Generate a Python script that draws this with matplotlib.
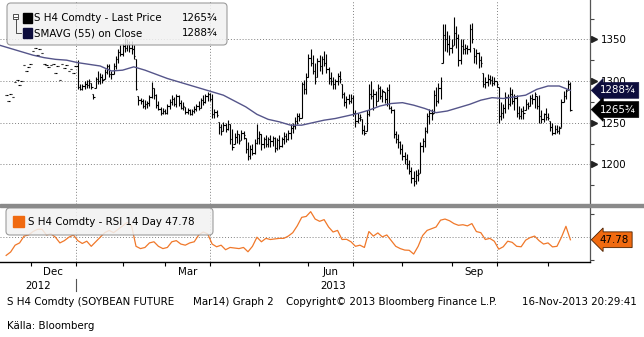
import numpy as np
import pandas as pd
import matplotlib
matplotlib.use("Agg")
import matplotlib.pyplot as plt
import matplotlib.transforms as mtransforms
from matplotlib.patches import Rectangle, FancyBboxPatch
from matplotlib.lines import Line2D

plt.rcParams['font.family'] = ['DejaVu Sans']

# CBOT trading calendar (weekdays without exchange holidays)
holidays = ["2012-11-22", "2012-12-25", "2013-01-01", "2013-01-21", "2013-02-18",
            "2013-03-29", "2013-05-27", "2013-07-04", "2013-09-02", "2013-11-28"]
first_bar = "2012-11-15"
sma_start = "2012-11-12"
rsi_start = "2012-11-15"

# early days: only a settlement dash (high = low = close)
early = [1283, 1276, 1285, 1281, 1299, 1301, 1295, 1300, 1319, 1312, 1317, 1321,
         1336, 1340, 1331, 1338, 1334, 1320, 1319, 1317, 1319, 1320, 1310, 1318,
         1301, 1321, 1316, 1319, 1312, 1315, 1310, 1318]

close = early + [
    1293, 1291, 1294, 1297, 1295, 1300, 1293, 1281, 1302, 1300, 1305, 1301, 1311, 1318, 1308,
    1309, 1318, 1327, 1335, 1333, 1342, 1340, 1345, 1340, 1338, 1330, 1291, 1277, 1276,
    1270, 1272, 1274, 1281, 1292, 1283, 1271, 1267, 1262, 1264, 1262, 1270, 1275, 1279, 1273,
    1282, 1274, 1268, 1270, 1263, 1265, 1261, 1264, 1266, 1270, 1268, 1277, 1275, 1282, 1284, 1279,
    1260, 1263, 1259, 1245, 1240, 1247, 1243, 1249, 1230, 1221, 1233, 1236, 1228, 1238, 1235,
    1218, 1210, 1219, 1214, 1226, 1232, 1236, 1224, 1230, 1225, 1231, 1228, 1232, 1220, 1229,
    1222, 1231, 1234, 1230, 1238, 1244,
    1246, 1252, 1258, 1256, 1296, 1290, 1305, 1328, 1322, 1312, 1300, 1324, 1318, 1326, 1322,
    1315, 1304, 1300, 1296, 1300, 1306, 1302, 1285, 1275, 1279, 1276, 1280, 1262, 1252, 1256,
    1257, 1241, 1238,
    1261, 1285, 1282, 1285, 1276, 1292, 1282, 1288, 1278, 1289, 1268, 1265, 1236, 1230, 1227,
    1218, 1210, 1206, 1200, 1192, 1184, 1180, 1187, 1189, 1222, 1228, 1240, 1258, 1262, 1260,
    1283, 1276, 1292, 1300,
    1355, 1350, 1345, 1340, 1342, 1358, 1352, 1325, 1342, 1338, 1340, 1339, 1362, 1350, 1330,
    1334, 1325, 1322, 1296, 1299, 1303, 1301, 1298, 1300, 1296,
    1258, 1262, 1268, 1281, 1272, 1285, 1276, 1280, 1262, 1258, 1264, 1262, 1272, 1270, 1280,
    1278, 1284, 1270, 1258, 1255, 1260, 1257, 1256, 1245, 1238, 1242, 1240, 1244, 1275, 1282,
    1288, 1296, 1265.75]

high = early + [
    1325, 1297, 1296, 1300, 1301, 1302, 1298, 1284, 1305, 1312, 1310, 1308, 1314, 1321, 1320,
    1312, 1322, 1330, 1338, 1343, 1346, 1352, 1350, 1348, 1348, 1343, 1327, 1282, 1280,
    1279, 1277, 1276, 1283, 1299, 1292, 1285, 1276, 1269, 1268, 1267, 1272, 1278, 1283, 1281,
    1285, 1283, 1277, 1275, 1269, 1268, 1267, 1266, 1270, 1273, 1276, 1280, 1283, 1285, 1287, 1286,
    1285, 1267, 1265, 1251, 1249, 1251, 1250, 1253, 1248, 1243, 1238, 1241, 1237, 1241, 1240,
    1232, 1227, 1223, 1225, 1230, 1249, 1240, 1237, 1233, 1235, 1233, 1235, 1234, 1233, 1232,
    1235, 1233, 1239, 1238, 1241, 1249,
    1250, 1257, 1262, 1262, 1299, 1301, 1310, 1333, 1338, 1331, 1322, 1328, 1331, 1330, 1336,
    1332, 1317, 1311, 1305, 1303, 1310, 1312, 1296, 1287, 1282, 1285, 1284, 1283, 1265, 1262,
    1260, 1255, 1247,
    1265, 1296, 1300, 1290, 1288, 1296, 1294, 1290, 1287, 1293, 1296, 1270, 1266, 1240, 1237,
    1228, 1225, 1215, 1213, 1205, 1197, 1192, 1193, 1195, 1227, 1232, 1245, 1262, 1267, 1266,
    1289, 1293, 1298, 1305,
    1369, 1368, 1360, 1355, 1350, 1377, 1366, 1357, 1350, 1351, 1345, 1343, 1368, 1370, 1340,
    1338, 1335, 1330, 1310, 1305, 1308, 1307, 1306, 1305, 1300,
    1293, 1275, 1273, 1287, 1285, 1293, 1290, 1284, 1283, 1270, 1268, 1270, 1278, 1275, 1283,
    1285, 1287, 1282, 1283, 1265, 1262, 1268, 1262, 1252, 1250, 1247, 1247, 1246, 1278, 1288,
    1290, 1301, 1299]

low = early + [
    1291, 1289, 1289, 1290, 1292, 1292, 1290, 1279, 1292, 1296, 1297, 1298, 1302, 1308, 1305,
    1303, 1308, 1315, 1322, 1330, 1330, 1335, 1336, 1335, 1332, 1326, 1289, 1271, 1272,
    1268, 1267, 1268, 1270, 1280, 1279, 1268, 1265, 1259, 1260, 1260, 1261, 1266, 1271, 1270,
    1269, 1270, 1266, 1265, 1261, 1260, 1259, 1259, 1262, 1264, 1265, 1268, 1271, 1274, 1276, 1276,
    1256, 1256, 1257, 1236, 1235, 1240, 1239, 1241, 1225, 1217, 1224, 1226, 1225, 1229, 1230,
    1214, 1205, 1207, 1211, 1213, 1224, 1225, 1217, 1220, 1221, 1221, 1221, 1222, 1215, 1217,
    1219, 1221, 1225, 1227, 1229, 1231,
    1238, 1243, 1249, 1252, 1256, 1285, 1284, 1305, 1318, 1308, 1296, 1305, 1312, 1308, 1318,
    1310, 1297, 1295, 1290, 1290, 1295, 1298, 1280, 1270, 1268, 1273, 1274, 1258, 1245, 1250,
    1252, 1237, 1235,
    1240, 1258, 1278, 1265, 1270, 1276, 1278, 1275, 1274, 1270, 1266, 1262, 1232, 1226, 1220,
    1212, 1205, 1200, 1195, 1189, 1178, 1174, 1177, 1180, 1190, 1215, 1221, 1238, 1249, 1253,
    1262, 1270, 1274, 1278,
    1322, 1336, 1335, 1331, 1334, 1343, 1340, 1318, 1321, 1332, 1333, 1333, 1335, 1346, 1322,
    1320, 1316, 1317, 1293, 1292, 1294, 1296, 1294, 1295, 1293,
    1250, 1253, 1256, 1262, 1267, 1270, 1272, 1265, 1257, 1255, 1255, 1255, 1265, 1267, 1270,
    1272, 1268, 1267, 1250, 1250, 1251, 1253, 1253, 1240, 1235, 1236, 1238, 1237, 1245, 1275,
    1278, 1289, 1264]

# SMAVG(55) read every 5th trading day
sma55 = [1343, 1339, 1335, 1331, 1328, 1326, 1325, 1322, 1320, 1318,
         1312, 1313, 1317, 1313, 1308, 1303, 1299, 1295, 1291, 1287,
         1283, 1276, 1269, 1260, 1254, 1251, 1247, 1247, 1250, 1253,
         1255, 1258, 1261, 1265, 1270, 1273, 1274, 1271, 1267, 1262,
         1264, 1268, 1272, 1277, 1280, 1279, 1281, 1283, 1290, 1294,
         1294, 1288.75]

# RSI 14 day read every 2nd trading day
rsi14 = [34, 37, 43, 45, 51, 52, 55, 57, 57, 52,
         53, 50, 45, 47, 50, 52, 47, 44.5, 46.5, 42,
         46, 50, 54, 56, 54, 57, 60, 63, 60, 42,
         40, 41, 45, 46, 42, 40, 41, 46, 47, 44,
         43, 45, 46, 52, 54.6, 53, 44, 41.6, 43, 39,
         41, 40.5, 40, 41, 37.2, 42, 50, 46, 49, 48,
         48.5, 49, 49, 51, 54, 60, 67.5, 68.3, 72.5, 66,
         64, 65.5, 59, 54.6, 56, 48, 48.2, 46, 42, 43,
         41, 55, 51, 53.8, 50.3, 52, 47, 42, 40, 38.7,
         38.5, 35.2, 42, 51.5, 56, 57.5, 59, 65, 66, 64.5,
         62, 60.5, 61, 60, 62, 55, 54, 48, 49, 46.5,
         39.5, 41.6, 46.5, 45.5, 42, 41.6, 47.4, 49.7, 51, 47,
         44, 45, 41.5, 42, 50, 59.6, 47.78]

price_ticks = [1200, 1250, 1300, 1350]
price_minor = [1175, 1225, 1275, 1325, 1375]
rsi_ticks = [30, 70]
label_months = {12: "Dec", 3: "Mar", 6: "Jun", 9: "Sep"}

# ---------------------------------------------------------------
W, H = 644, 337
def fx(px): return px / W
def fy(py): return 1 - py / H

def frac(v):
    whole = int(v)
    q = int(round((v - whole) * 4))
    return str(whole) + ["", "\u00bc", "\u00bd", "\u00be"][q]

days = pd.bdate_range("2012-11-12", "2013-11-29", freq="C", holidays=holidays)
pos = {d.strftime("%Y-%m-%d"): i for i, d in enumerate(days)}
x_left, x_right = 0.25, 263.75

fig = plt.figure(figsize=(6.44, 3.37), dpi=100)
ax = fig.add_axes([0, fy(204), fx(590), 204 / H])
ax2 = fig.add_axes([0, fy(262), fx(590), 55 / H])

month_first = [i for i in range(1, len(days)) if days[i].month != days[i - 1].month]
quarter_first = [i for i in month_first if days[i].month in (1, 4, 7, 10)]

grid_kw = dict(color='#808080', lw=0.7, ls=(0, (1, 2)), zorder=0)

# ---- price panel
xb = np.arange(pos[first_bar], pos[first_bar] + len(close))
c = np.array(close, float)
hi = np.array(high, float)
lo = np.array(low, float)
op = np.clip(np.r_[c[0], c[:-1]], lo, hi)
bar_kw = dict(color='black', lw=0.8, zorder=3)
ax.vlines(xb, lo, hi, **bar_kw)
ax.hlines(op, xb - 0.6, xb, **bar_kw)
ax.hlines(c, xb, xb + 0.6, **bar_kw)

xs = pos[sma_start] + 5 * np.arange(len(sma55))
ax.plot(xs, sma55, color='#55558a', lw=1.0, zorder=4)

for v in price_ticks:
    ax.axhline(v, **grid_kw)
for q in quarter_first:
    ax.axvline(q, **grid_kw)

ax.set_xlim(x_left, x_right)
ax.set_ylim(1152.4, 1397.2)
for s in ['left', 'top', 'bottom']:
    ax.spines[s].set_visible(False)
ax.spines['right'].set_color('#555555')
ax.spines['right'].set_linewidth(0.9)
ax.yaxis.tick_right()
ax.set_yticks(price_ticks)
ax.set_yticks(price_minor, minor=True)
ax.tick_params(axis='y', which='major', length=0, pad=8, labelsize=7.4)
ax.tick_params(axis='y', which='minor', length=3, width=0.8, color='#444444')
ax.tick_params(axis='x', which='both', length=0, labelbottom=False)
ax.set_xticks([])

blend = mtransforms.blended_transform_factory(ax.transAxes, ax.transData)
ax.plot(np.full(len(price_ticks), 1 + 3.5 / 590), price_ticks, transform=blend,
        marker='>', ms=4, color='#222222', ls='none', clip_on=False)

ax.text(1 + 10 / 590, sma55[-1], frac(sma55[-1]), transform=blend, ha='left', va='center',
        color='white', fontsize=7.4, clip_on=False, zorder=6,
        bbox=dict(boxstyle='larrow,pad=0.28', fc='#0d0d3d', ec='#0d0d3d', lw=0.5))
ax.text(1 + 10 / 590, close[-1], frac(close[-1]), transform=blend, ha='left', va='center',
        color='white', fontsize=7.4, clip_on=False, zorder=6,
        bbox=dict(boxstyle='larrow,pad=0.28', fc='black', ec='black', lw=0.5))

# ---- RSI panel
xr = pos[rsi_start] + 2 * np.arange(len(rsi14))
ax2.plot(xr, rsi14, color='#f0782a', lw=0.9, zorder=3)
ax2.axhline(50, **grid_kw)
for q in quarter_first:
    ax2.axvline(q, **grid_kw)
ax2.set_xlim(x_left, x_right)
ax2.set_ylim(28.2, 76.6)
for s in ['left', 'top']:
    ax2.spines[s].set_visible(False)
ax2.spines['right'].set_color('#555555')
ax2.spines['right'].set_linewidth(0.9)
ax2.spines['bottom'].set_color('black')
ax2.spines['bottom'].set_linewidth(1.0)
ax2.yaxis.tick_right()
ax2.set_yticks(rsi_ticks)
ax2.set_yticklabels([])
ax2.tick_params(axis='y', length=3, width=0.8, color='#444444')

lab_pos, lab_txt = [], []
for a, b in zip(month_first[:-1], month_first[1:]):
    if days[a].month in label_months:
        lab_pos.append((a + b) / 2)
        lab_txt.append(label_months[days[a].month])
ax2.set_xticks(month_first)
ax2.set_xticklabels([])
ax2.set_xticks(lab_pos, minor=True)
ax2.set_xticklabels(lab_txt, minor=True)
ax2.tick_params(axis='x', which='major', length=3, width=0.8, direction='out')
ax2.tick_params(axis='x', which='minor', length=0, pad=3.5, labelsize=7.4)

yb = mtransforms.blended_transform_factory(ax2.transData, fig.transFigure)
jan = [i for i in month_first if days[i].month == 1][0]
ax2.text((x_left + jan) / 2, fy(286), "2012", transform=yb, ha='center', va='center', fontsize=7.4)
ax2.text((jan + x_right) / 2, fy(286), "2013", transform=yb, ha='center', va='center', fontsize=7.4)
fig.add_artist(Line2D([jan, jan], [fy(279), fy(291)], transform=yb, color='#555555', lw=0.8))

blend2 = mtransforms.blended_transform_factory(ax2.transAxes, ax2.transData)
ax2.text(1 + 10 / 590, rsi14[-1], f"{rsi14[-1]:.2f}", transform=blend2, ha='left', va='center',
         color='black', fontsize=7.4, clip_on=False, zorder=6,
         bbox=dict(boxstyle='larrow,pad=0.28', fc='#f06a10', ec='#4a2000', lw=0.6))

# ---- panel separator
fig.add_artist(Rectangle((0, fy(207)), 1, 3 / H, transform=fig.transFigure,
                         color='#8a8a8a', zorder=5))

# ---- legends
box_kw = dict(boxstyle='round,pad=0,rounding_size=0.006', mutation_aspect=W / H,
              transform=fig.transFigure, fc='#f2f2f2', ec='#8c8c8c', lw=0.8, alpha=0.85, zorder=6)
fig.add_artist(FancyBboxPatch((fx(7), fy(45)), fx(220), 42 / H, **box_kw))
fig.add_artist(Rectangle((fx(23), fy(23)), fx(9), 10 / H, transform=fig.transFigure,
                         color='black', zorder=7))
fig.add_artist(Rectangle((fx(23), fy(38)), fx(9), 10 / H, transform=fig.transFigure,
                         color='#0d0d3d', zorder=7))
fig.add_artist(Rectangle((fx(13), fy(19)), fx(5), 5 / H, transform=fig.transFigure,
                         fc='white', ec='#333333', lw=0.6, zorder=7))
fig.add_artist(Line2D([fx(14), fx(17)], [fy(16.5), fy(16.5)], transform=fig.transFigure,
                      color='#333333', lw=0.6, zorder=8))
fig.add_artist(Line2D([fx(15.5), fx(15.5), fx(21)], [fy(19), fy(33), fy(33)],
                      transform=fig.transFigure, color='#333333', lw=0.6, zorder=7))
txt_kw = dict(fontsize=7.4, va='center', zorder=8)
fig.text(fx(34), fy(18), "S H4 Comdty - Last Price", **txt_kw)
fig.text(fx(218), fy(18), frac(close[-1]), ha='right', **txt_kw)
fig.text(fx(34), fy(33), "SMAVG (55) on Close", **txt_kw)
fig.text(fx(218), fy(33), frac(sma55[-1]), ha='right', **txt_kw)

fig.add_artist(FancyBboxPatch((fx(6), fy(235)), fx(207), 27 / H, **box_kw))
fig.add_artist(Rectangle((fx(13), fy(227)), fx(11), 11 / H, transform=fig.transFigure,
                         color='#f06a10', zorder=7))
fig.text(fx(28), fy(222), f"S H4 Comdty - RSI 14 Day {rsi14[-1]:.2f}", **txt_kw)

# ---- footer
foot = dict(fontsize=7.4, va='center')
fig.text(fx(7), fy(302), "S H4 Comdty (SOYBEAN FUTURE", **foot)
fig.text(fx(193), fy(302), "Mar14) Graph 2", **foot)
fig.text(fx(286), fy(302), "Copyright\u00a9 2013 Bloomberg Finance L.P.", **foot)
fig.text(fx(637), fy(302), "16-Nov-2013 20:29:41", ha='right', **foot)
fig.text(fx(7), fy(326), "K\u00e4lla: Bloomberg", **foot)

fig.savefig("out.png", dpi=100)
